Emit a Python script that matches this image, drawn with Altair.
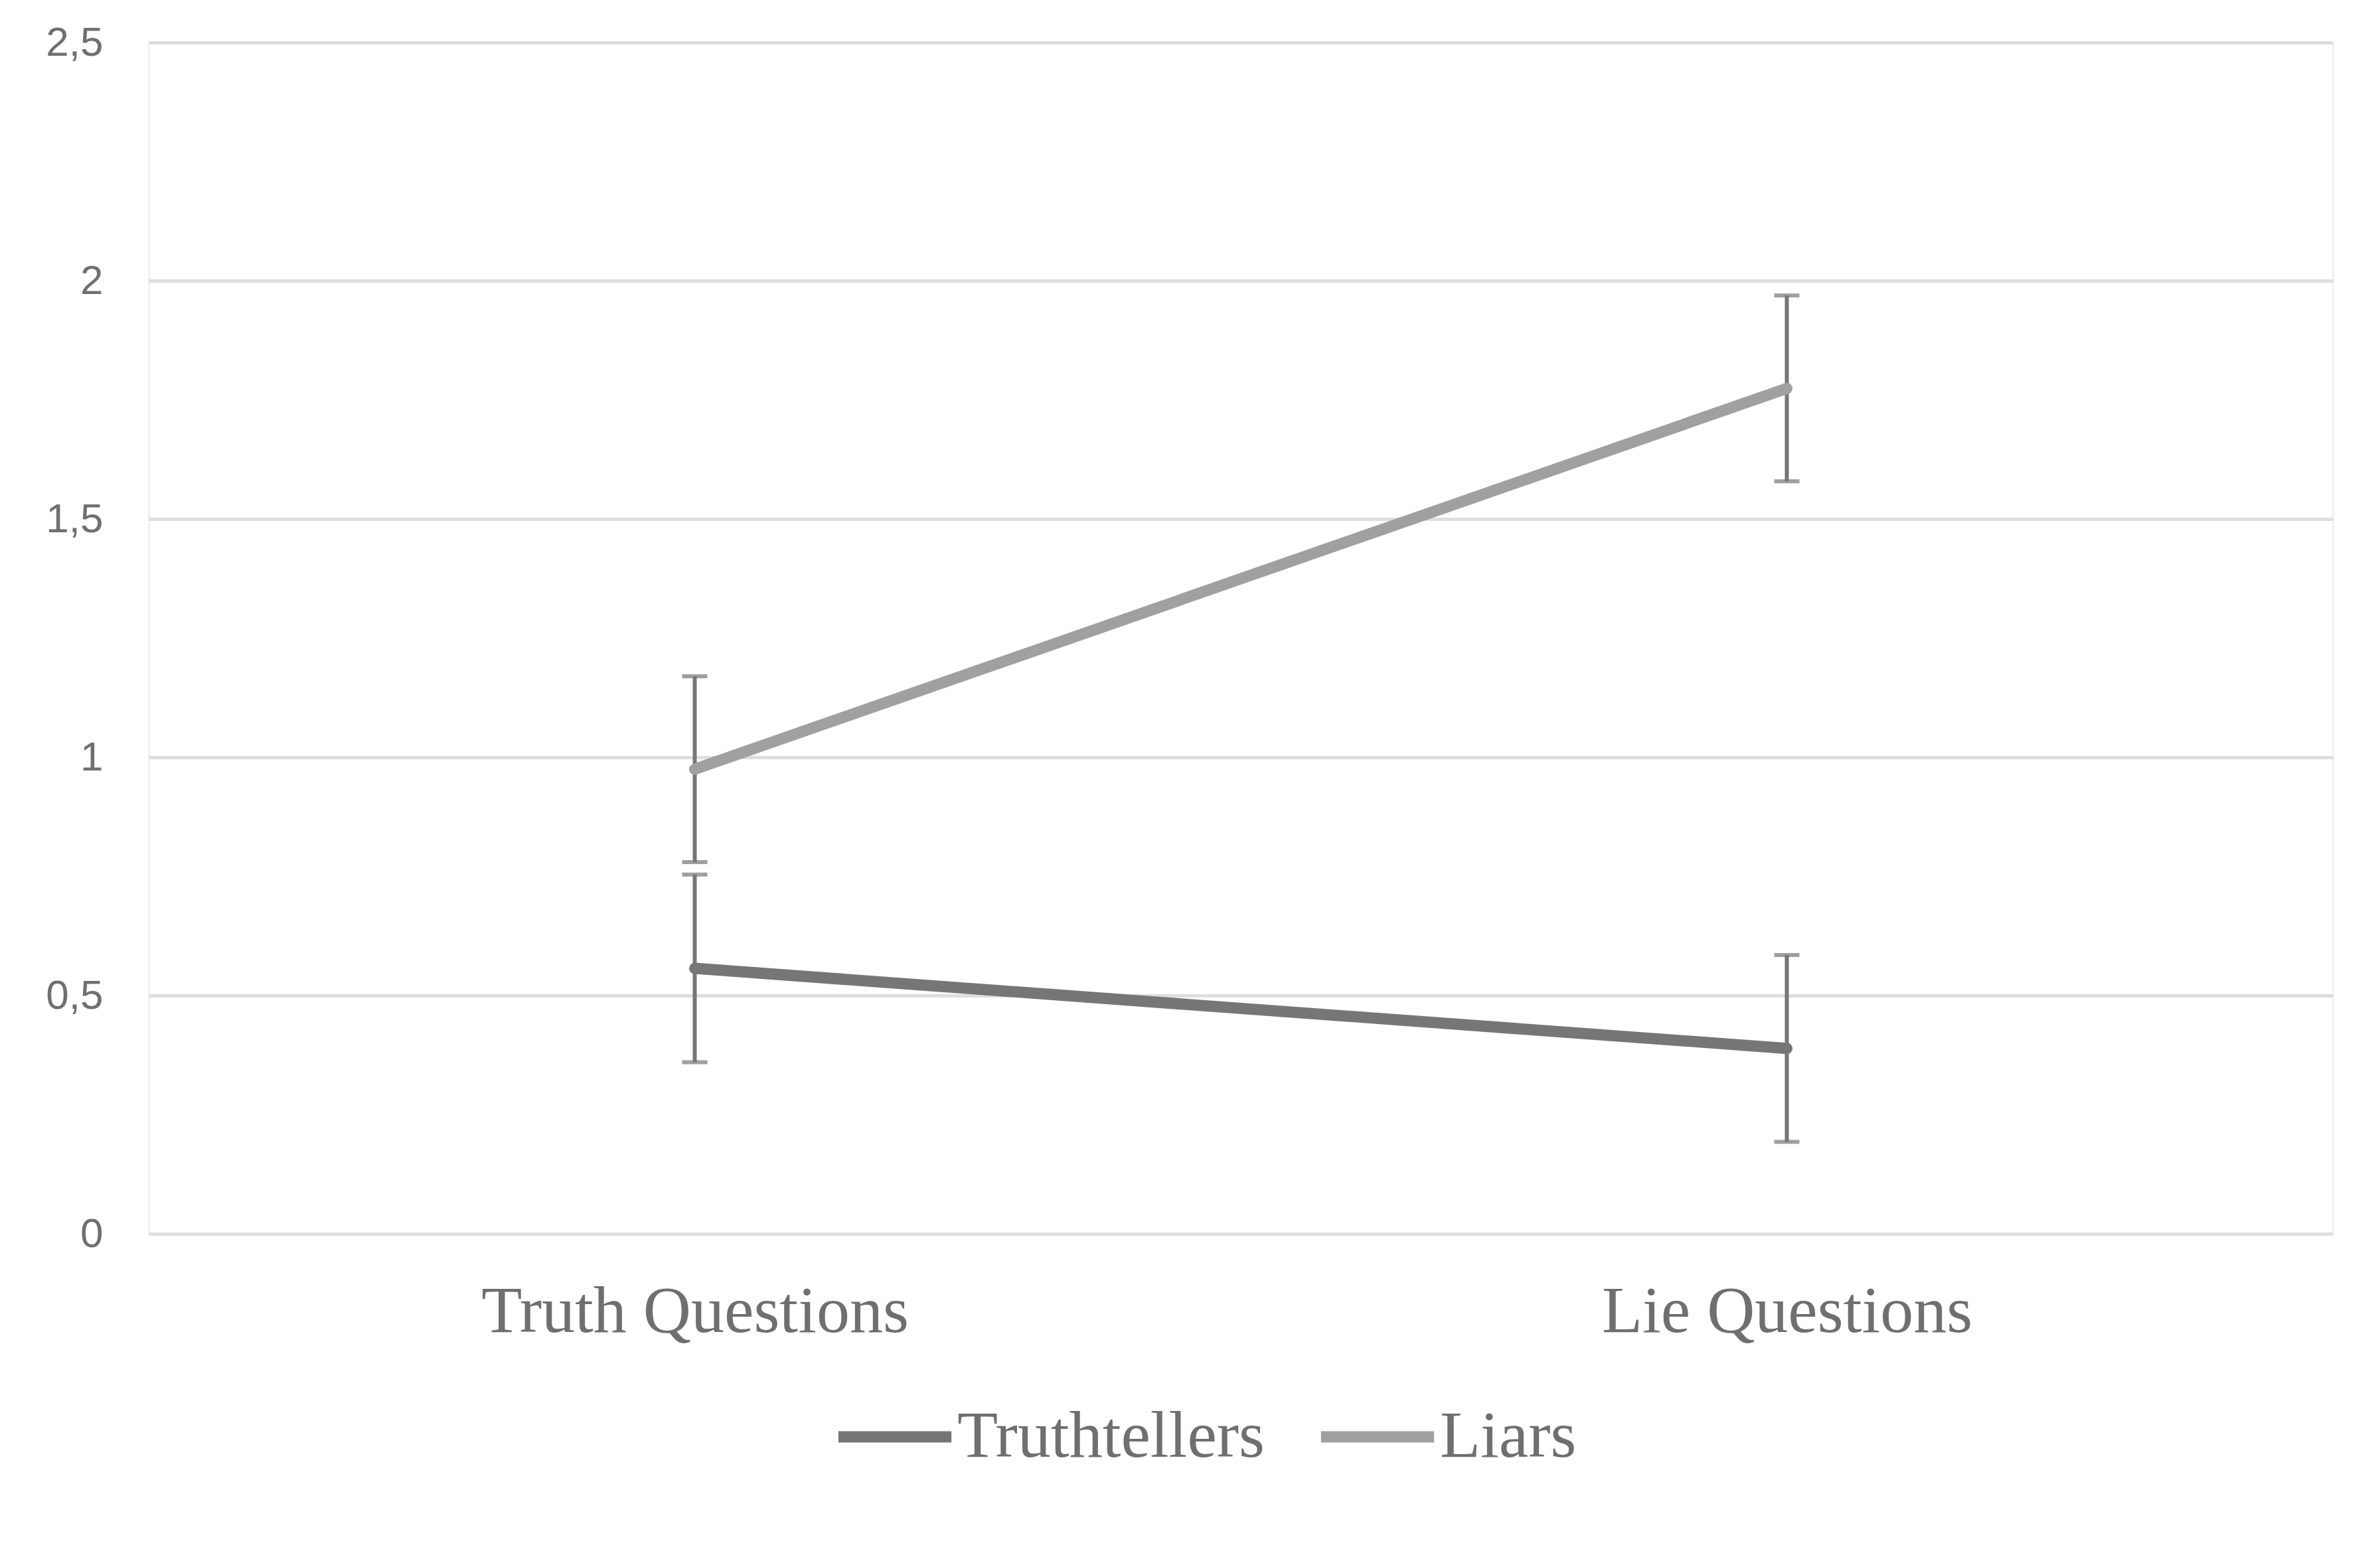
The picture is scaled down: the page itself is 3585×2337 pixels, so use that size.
import altair as alt
import pandas as pd

categories = ["Truth Questions", "Lie Questions"]
groups = ["Truthtellers", "Liars"]
truthtellers_mean = [0.557, 0.389]
truthtellers_err = [0.197, 0.196]
liars_mean = [0.975, 1.774]
liars_err = [0.195, 0.195]
y_ticks = [0, 0.5, 1, 1.5, 2, 2.5]

rows = []
for i, c in enumerate(categories):
    rows.append({"cat": c, "group": "Truthtellers", "mean": truthtellers_mean[i],
                 "lo": truthtellers_mean[i] - truthtellers_err[i],
                 "hi": truthtellers_mean[i] + truthtellers_err[i]})
for i, c in enumerate(categories):
    rows.append({"cat": c, "group": "Liars", "mean": liars_mean[i],
                 "lo": liars_mean[i] - liars_err[i],
                 "hi": liars_mean[i] + liars_err[i]})
df = pd.DataFrame(rows)

xenc = alt.X("cat:N", sort=categories, title=None,
             scale=alt.Scale(type="point", padding=0.5),
             axis=alt.Axis(labelAngle=0, labelFont="Liberation Serif", labelFontSize=100,
                           labelColor="#6f6f6f", labelPadding=68, labelLimit=0,
                           domain=False, ticks=False, tickSize=0, grid=False))
yscale = alt.Scale(domain=[0, 2.5], nice=False, zero=True)

base = alt.Chart(df)

err_rule = base.mark_rule(color="#767676", strokeWidth=6).encode(
    x=xenc,
    y=alt.Y("lo:Q", scale=yscale, title=None,
            axis=alt.Axis(values=y_ticks, labelExpr="replace(toString(datum.value), '.', ',')",
                          labelFont="Liberation Sans", labelFontSize=62, labelColor="#6f6f6f",
                          labelPadding=69, tickSize=0, ticks=False, domain=False,
                          gridColor="#dedede", gridWidth=5)),
    y2="hi:Q",
)
cap_hi = base.mark_tick(color="#767676", thickness=6, size=38, orient="horizontal").encode(
    x=alt.X("cat:N", sort=categories), y=alt.Y("hi:Q", scale=yscale))
cap_lo = base.mark_tick(color="#767676", thickness=6, size=38, orient="horizontal").encode(
    x=alt.X("cat:N", sort=categories), y=alt.Y("lo:Q", scale=yscale))

lines = base.mark_line(strokeWidth=17, strokeCap="round", strokeJoin="round").encode(
    x=alt.X("cat:N", sort=categories),
    y=alt.Y("mean:Q", scale=yscale),
    color=alt.Color("group:N", sort=groups,
                    scale=alt.Scale(domain=groups, range=["#767676", "#a0a0a0"]),
                    legend=alt.Legend(title=None, orient="none", direction="horizontal",
                                      legendX=1030, legendY=2007,
                                      labelFont="Liberation Serif", labelFontSize=100,
                                      labelColor="#6f6f6f", labelLimit=0, symbolType="stroke",
                                      symbolSize=29000, symbolStrokeWidth=17,
                                      labelOffset=0, columnPadding=50)),
)

chart = alt.layer(err_rule, cap_hi, cap_lo, lines).properties(
    width=3290, height=1795,
    padding={"left": 216, "top": 56, "right": 63, "bottom": 470},
    autosize=alt.AutoSizeParams(type="none"),
).configure_view(stroke=None).configure(background="white")

chart.save("out.html", embed_options={"renderer": "svg", "actions": False})
